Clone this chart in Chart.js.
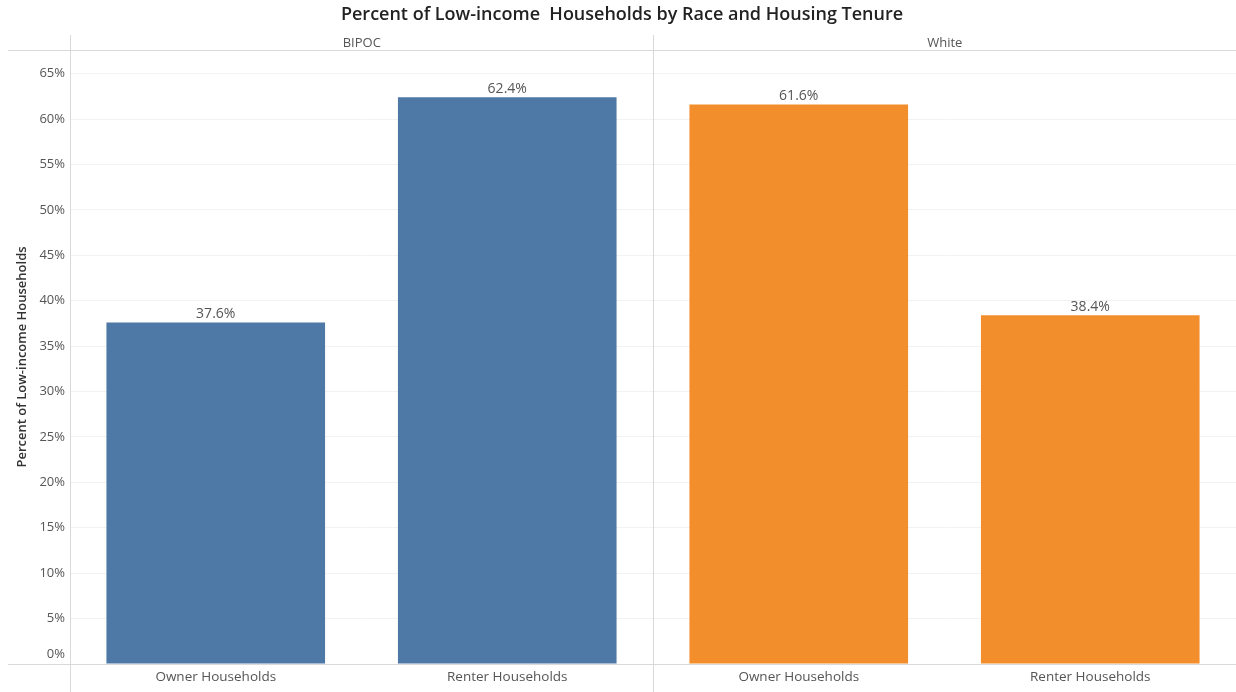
<!DOCTYPE html>
<html>
<head>
<meta charset="utf-8">
<script src="https://cdn.jsdelivr.net/npm/chart.js@4.4.1/dist/chart.umd.min.js"></script>
<style>
    html, body { margin: 0; padding: 0; background: #fff; }
    #wrap { width: 1236px; height: 692px; position: relative; }
</style>
</head>
<body>
<div id="wrap"><canvas id="chart" width="1236" height="692"></canvas></div>
<script>
const chartTitle = 'Percent of Low-income  Households by Race and Housing Tenure';
const axisTitle = 'Percent of Low-income Households';
const races = ['BIPOC', 'White'];
const tenures = ['Owner Households', 'Renter Households'];
const bipocValues = [37.6, 62.4];
const whiteValues = [61.6, 38.4];
const raceColors = ['#4e79a7', '#f28e2b'];
const yTicks = [0, 5, 10, 15, 20, 25, 30, 35, 40, 45, 50, 55, 60, 65];

const FONT = "'Open Sans', 'Noto Sans', sans-serif";

// flatten the two panes into one category axis
const labels = [];
const values = [];
const colors = [];
races.forEach((race, r) => {
    const vals = r === 0 ? bipocValues : whiteValues;
    tenures.forEach((t, i) => {
        labels.push(t);
        values.push(vals[i]);
        colors.push(raceColors[r]);
    });
});

const tableauLook = {
    id: 'tableauLook',
    afterDraw(chart) {
        const ctx = chart.ctx;
        const area = chart.chartArea;
        const x = chart.scales.x;
        const y = chart.scales.y;
        ctx.save();

        // frame lines
        ctx.strokeStyle = '#d9d9d9';
        ctx.lineWidth = 1;
        ctx.beginPath();
        ctx.moveTo(8, area.top + 0.5); ctx.lineTo(area.right, area.top + 0.5);
        ctx.moveTo(8, area.bottom + 0.5); ctx.lineTo(area.right, area.bottom + 0.5);
        ctx.moveTo(area.left + 0.5, 35); ctx.lineTo(area.left + 0.5, 692);
        const divX = Math.round((x.getPixelForValue(1) + x.getPixelForValue(2)) / 2) + 0.5;
        ctx.moveTo(divX, 35); ctx.lineTo(divX, 692);
        ctx.stroke();

        // title
        ctx.fillStyle = '#222';
        ctx.font = '600 18px ' + FONT;
        ctx.textAlign = 'center';
        ctx.textBaseline = 'middle';
        ctx.fillText(chartTitle, 622, 15);

        // pane headers
        ctx.fillStyle = '#555';
        ctx.font = '13px ' + FONT;
        ctx.fillText(races[0], (area.left + divX) / 2, 43);
        ctx.fillText(races[1], (divX + area.right) / 2, 43);

        // y tick labels
        ctx.textAlign = 'right';
        ctx.font = '13px ' + FONT;
        yTicks.forEach(v => {
            const py = Math.min(y.getPixelForValue(v), area.bottom - 10);
            ctx.fillText(v + '%', area.left - 5, py);
        });

        // y axis title
        ctx.save();
        ctx.translate(22, (area.top + area.bottom) / 2);
        ctx.rotate(-Math.PI / 2);
        ctx.textAlign = 'center';
        ctx.fillStyle = '#333';
        ctx.font = '600 13px ' + FONT;
        ctx.fillText(axisTitle, 0, 0);
        ctx.restore();

        // value labels
        const meta = chart.getDatasetMeta(0);
        ctx.textAlign = 'center';
        ctx.textBaseline = 'bottom';
        ctx.fillStyle = '#555';
        ctx.font = '14px ' + FONT;
        meta.data.forEach((bar, i) => {
            ctx.fillText(values[i].toFixed(1) + '%', bar.x, bar.y - 1);
        });
        ctx.restore();
    }
};

new Chart(document.getElementById('chart').getContext('2d'), {
    type: 'bar',
    data: {
        labels: labels,
        datasets: [{
            data: values,
            backgroundColor: colors,
            borderWidth: 0,
            categoryPercentage: 1,
            barPercentage: 0.75
        }]
    },
    options: {
        responsive: false,
        animation: false,
        layout: { padding: { top: 50, left: 0, right: 0, bottom: 0 } },
        plugins: {
            legend: { display: false },
            tooltip: { enabled: false }
        },
        scales: {
            x: {
                grid: { display: false, drawTicks: false },
                border: { display: false },
                ticks: { color: '#555', font: { family: FONT, size: 13.5 }, padding: 5 },
                afterFit(scale) { scale.height = 28; }
            },
            y: {
                min: 0,
                max: 67.6,
                grid: { color: '#f2f2f2', drawTicks: false },
                border: { display: false },
                ticks: { display: false, stepSize: 5 },
                afterFit(scale) { scale.width = 70; }
            }
        }
    },
    plugins: [tableauLook]
});
</script>
</body>
</html>
